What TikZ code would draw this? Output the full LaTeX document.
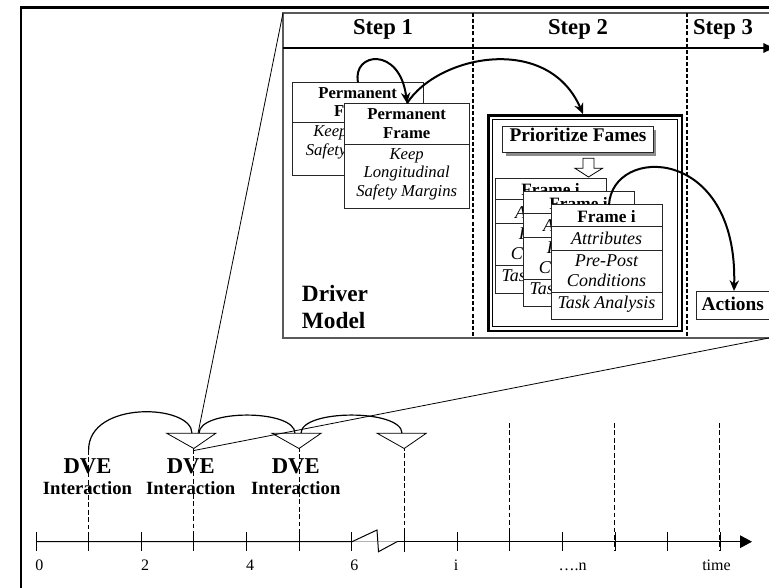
\documentclass[tikz,border=0pt]{standalone}
\usepackage{fontspec}
\setmainfont{Liberation Serif}
\usetikzlibrary{arrows.meta}

\tikzset{
  boxline/.style={draw=black!85, line width=0.75pt},
  panelline/.style={draw=black!65, line width=0.8pt},
  stepsep/.style={line width=1.4pt, dash pattern=on 3pt off 1.6pt},
  timedash/.style={line width=0.6pt, dash pattern=on 3.6pt off 2pt},
  conn/.style={line width=1.5pt, -{Stealth[length=8pt,width=7pt]}},
  arcline/.style={line width=0.9pt},
  tickline/.style={line width=0.7pt},
  tri/.style={line width=0.6pt, fill=white},
  steplabel/.style={font=\fontsize{17}{20}\selectfont\bfseries, inner sep=0pt, anchor=base},
  drvlabel/.style={font=\fontsize{17.5}{20}\selectfont\bfseries, inner sep=0pt, anchor=base west},
  permb/.style={font=\fontsize{12.5}{14}\selectfont\bfseries, inner sep=0pt, anchor=base},
  permi/.style={font=\fontsize{12.5}{14}\selectfont\itshape, inner sep=0pt, anchor=base},
  frb/.style={font=\fontsize{13}{15}\selectfont\bfseries, inner sep=0pt, anchor=base},
  fri/.style={font=\fontsize{13.5}{15}\selectfont\itshape, inner sep=0pt, anchor=base},
  prio/.style={font=\fontsize{14.5}{16}\selectfont\bfseries, inner sep=0pt, anchor=base},
  dvelabel/.style={font=\fontsize{17}{20}\selectfont\bfseries, inner sep=0pt, anchor=base},
  interlabel/.style={font=\fontsize{14}{16}\selectfont\bfseries, inner sep=0pt, anchor=base},
  numlabel/.style={font=\fontsize{12}{14}\selectfont, inner sep=0pt, anchor=base},
}

% card outline shared by all frame cards
\newcommand\CardOutline{%
    \draw[boxline, fill=white] (0,0) rectangle (111,115);
    \draw[boxline] (0,21.7) -- (111,21.7) (0,45.7) -- (111,45.7) (0,87.7) -- (111,87.7);}

% partly hidden card (only the visible letters are printed)
\newcommand\FrameCardBack[3]{%
  \begin{scope}[shift={(#1,#2)}]
    \CardOutline
    \node[frb] (#3-t) at (55.5,17.7) {Frame i};
    \node[fri] (#3-a) at (55.5,40) {A\phantom{ttributes}};
    \node[fri] (#3-p) at (55.5,61.7) {P\phantom{re-Post}};
    \node[fri] (#3-c) at (55.5,81.7) {C\phantom{onditions}};
    \node[fri] (#3-k) at (55.5,103.3) {Tas\phantom{k Analysis}};
  \end{scope}}

% front card
\newcommand\FrameCard[3]{%
  \begin{scope}[shift={(#1,#2)}]
    \CardOutline
    \node[frb] (#3-t) at (55.5,17.7) {Frame i};
    \node[fri] (#3-a) at (55.5,40) {Attributes};
    \node[fri] (#3-p) at (55.5,61.7) {Pre-Post};
    \node[fri] (#3-c) at (55.5,81.7) {Conditions};
    \node[fri] (#3-k) at (55.5,103.3) {Task Analysis};
  \end{scope}}

\begin{document}
\begin{tikzpicture}[x=0.75pt,y=-0.75pt]
\useasboundingbox (0,0) rectangle (769,588);
\clip (0,0) rectangle (769,588);
\fill[white] (0,0) rectangle (769,588);

% outer frame
\draw[line width=1.6pt] (21,600) -- (21,7.5) -- (790,7.5);

% zoomed panel
\coordinate (pTL) at (283,13);
\coordinate (pBR) at (769,338);
\draw[panelline] (790,13) -- (283,13) -- (283,338) -- (790,338);

% header axis
\coordinate (hA) at (283,48);
\coordinate (hB) at (774,48);
\draw[line width=1.6pt, -{Triangle[length=8pt,width=7pt]}] (hA) -- (hB);

% step separators
\draw[stepsep] (473,13) -- (473,338);
\draw[stepsep] (687,13) -- (687,338);

\node[steplabel] (s1) at (383,35) {Step 1};
\node[steplabel] (s2) at (578,35) {Step 2};
\node[steplabel] (s3) at (723,35) {Step 3};

% permanent frame (back, partly hidden)
\draw[boxline, fill=white] (292.3,82.3) rectangle (423,176);
\draw[boxline] (292.3,122.3) -- (423,122.3);
\node[permb] (pb1) at (357.7,98.3) {Permanent};
\node[permb] (pb2) at (357.7,116.5) {Fr\phantom{ame}};
\node[permi, anchor=base west] (pb3) at (313,136.7) {Keep};
\node[permi, anchor=base west] (pb4) at (305.5,156) {Safety};

% permanent frame (front)
\draw[boxline, fill=white] (344.3,103.3) rectangle (469,208.3);
\draw[boxline] (344.3,144.3) -- (469,144.3);
\node[permb] (pf1) at (406.7,120) {Permanent};
\node[permb] (pf2) at (406.7,138.3) {Frame};
\node[permi] (pf3) at (406.7,159.3) {Keep};
\node[permi] (pf4) at (406.7,178) {Longitudinal};
\node[permi] (pf5) at (406.7,196.7) {Safety Margins};

% step 2 box (thick-thin border)
\draw[line width=2.2pt] (488.3,115.3) rectangle (682,331);
\draw[line width=0.75pt] (492.5,120) rectangle (677.5,326.5);

% prioritize box with shadow
\fill[black!45] (506,130) rectangle (656,156);
\draw[boxline, fill=white] (502.7,126.7) rectangle (653,153);
\node[prio] (prio) at (578,141.7) {Prioritize Fames};

% hollow arrow
\draw[line width=0.6pt, fill=white] (583,158.3) -- (583,168.3) -- (575,168.3) -- (588.5,177) -- (602.5,168.3) -- (594,168.3) -- (594,158.3) -- cycle;

% frame cards
\FrameCardBack{495}{178.3}{fa}
\FrameCardBack{523}{191.7}{fb}
\FrameCard{551}{205}{fc}

% actions
\draw[boxline, fill=white] (696,291.7) rectangle (790,319.3);
\node[prio] (act) at (732.7,311) {Actions};

% driver model
\node[drvlabel] (drv1) at (301.7,301.7) {Driver};
\node[drvlabel] (drv2) at (301.7,328.3) {Model};

% connectors in panel
\coordinate (backTop) at (358,82.3);
\coordinate (frontTop) at (407,103.3);
\coordinate (boxTop) at (583,114);
\coordinate (cardTop) at (609,205);
\coordinate (actTop) at (734,291);
\draw[conn] (backTop) .. controls (352,52) and (400,46) .. (frontTop);
\draw[conn] (frontTop) .. controls (438,55) and (548,33) .. (boxTop);
\draw[conn] (cardTop) .. controls (612,145) and (738,145) .. (actTop);

% ---------------- timeline ----------------
\foreach \xx/\yy in {88.6/450, 193.8/449, 299/447, 404.2/446, 509.4/423, 614.6/423, 719.8/423}
  \draw[timedash] (\xx,\yy) -- (\xx,551);

\draw[arcline] (88.6,450) .. controls (88.6,400) and (192,404) .. (192,433.3);
\draw[arcline] (199,433.3) .. controls (199,409) and (295,409) .. (295,433.3);
\draw[arcline] (301,433.3) .. controls (301,409) and (402,409) .. (402,433.3);

\foreach \tx in {193.8, 299, 404.2}
  \draw[tri] (\tx-27,433.3) -- (\tx+22,433.3) -- (\tx,448.5) -- cycle;

% zoom lines
\coordinate (triTop) at (198,433.3);
\coordinate (triTip) at (194,450.5);
\draw[line width=0.6pt] (pTL) -- (triTop);
\draw[line width=0.6pt] (triTip) -- (pBR);

% DVE labels
\foreach \cx [count=\i] in {87.5, 190.7, 295.8} {
  \node[dvelabel] (dve\i) at (\cx,474) {DVE};
  \node[interlabel] (int\i) at (\cx,495) {Interaction};
}

% axis
\coordinate (ax0) at (36,541.7);
\coordinate (axb1) at (352,541.7);
\coordinate (axb2) at (397,541.7);
\coordinate (axEnd) at (752,541.7);
\draw[black!30, line width=0.5pt] (axb1) -- (axb2);
\draw[line width=0.75pt] (ax0) -- (axb1) -- (377,530) -- (378.5,551.7) -- (axb2);
\draw[line width=0.75pt, -{Triangle[length=9pt,width=9.5pt]}] (axb2) -- (axEnd);
\foreach \k in {0,...,13}
  \draw[tickline] ({36+52.65*\k},532) -- ({36+52.65*\k},551);

\node[numlabel] (n0) at (39.3,570.5) {0};
\node[numlabel] (n2) at (145,570.5) {2};
\node[numlabel] (n4) at (250,570.5) {4};
\node[numlabel] (n6) at (354.3,570.5) {6};
\node[numlabel] (ni) at (456,570.5) {i};
\node[numlabel] (nn) at (572.7,570.5) {….n};
\node[numlabel] (nt) at (716.5,570.5) {time};
\end{tikzpicture}
\end{document}
